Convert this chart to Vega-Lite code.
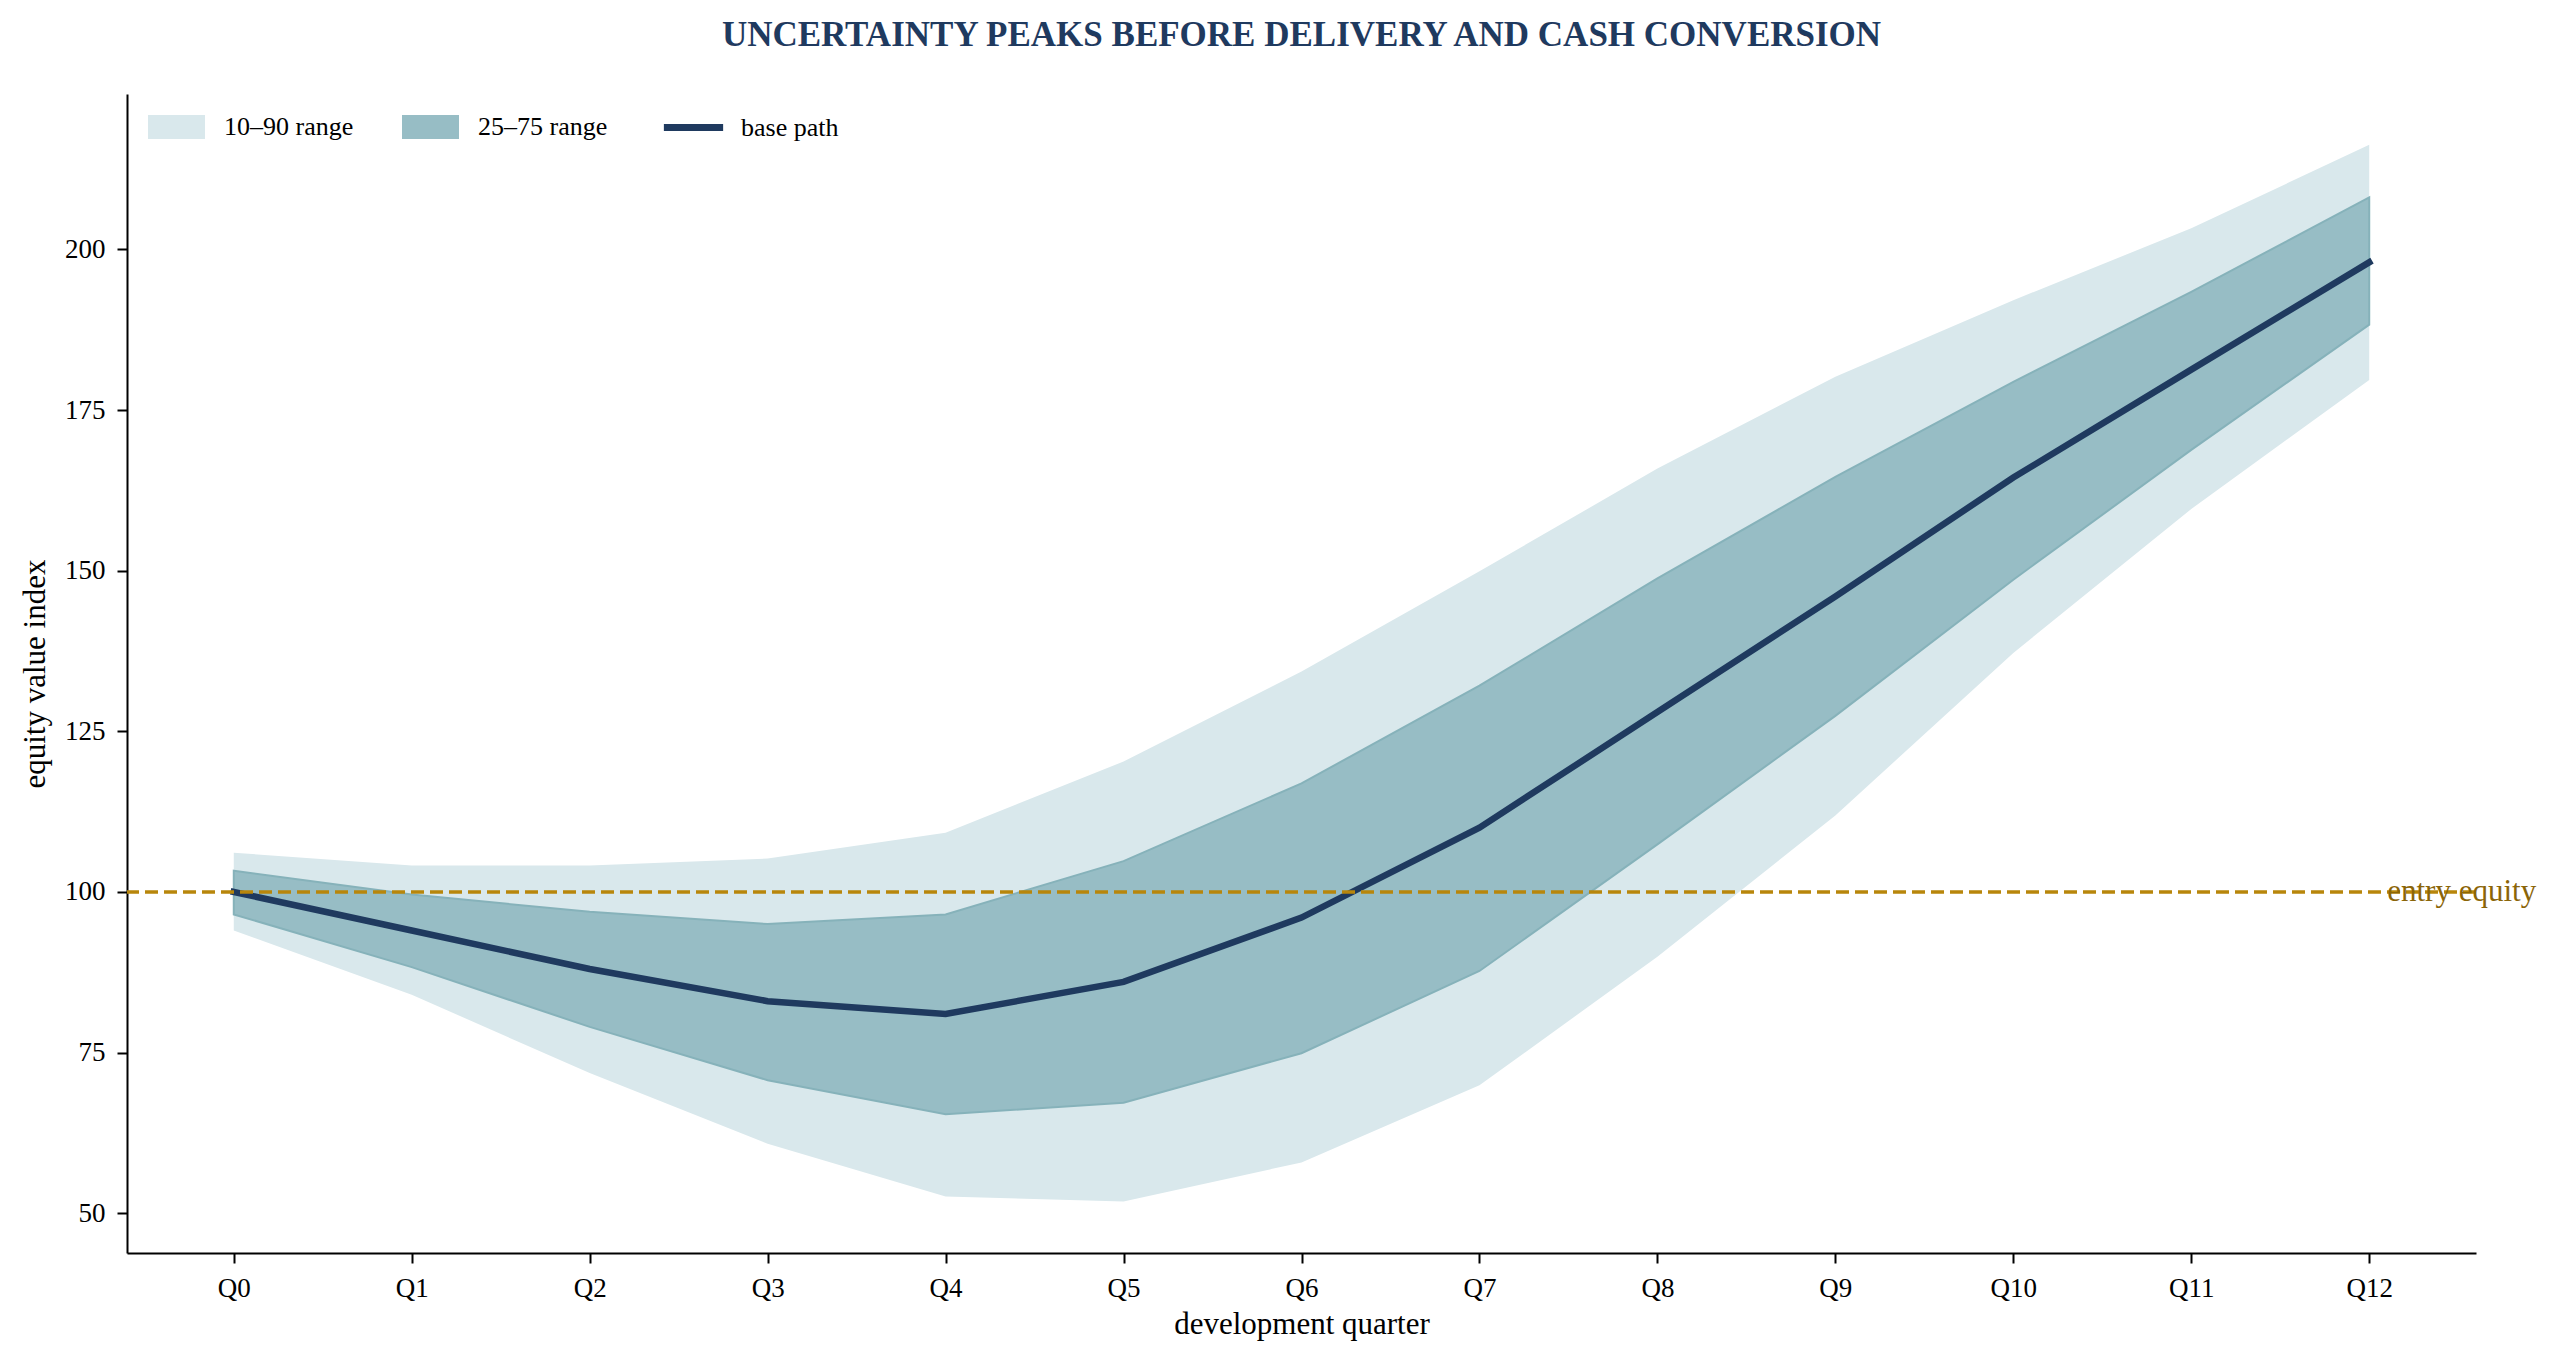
{
  "$schema": "https://vega.github.io/schema/vega-lite/v6.json",
  "width": 2349,
  "height": 1159,
  "autosize": {"type": "none"},
  "padding": {"left": 127, "top": 94, "right": 84, "bottom": 111},
  "background": "white",
  "title": {
    "text": "UNCERTAINTY PEAKS BEFORE DELIVERY AND CASH CONVERSION",
    "font": "Liberation Serif",
    "fontSize": 35,
    "fontWeight": "bold",
    "color": "#1f3a5f",
    "anchor": "middle",
    "frame": "group",
    "offset": 41
  },
  "data": {
    "values": [
      {"quarter": "Q0", "p10": 94.0, "p25": 96.5, "base": 100, "p75": 103.3, "p90": 106.1},
      {"quarter": "Q1", "p10": 84.0, "p25": 88.3, "base": 94, "p75": 99.6, "p90": 104.1},
      {"quarter": "Q2", "p10": 71.8, "p25": 79.0, "base": 88, "p75": 96.9, "p90": 104.1},
      {"quarter": "Q3", "p10": 60.8, "p25": 70.7, "base": 83, "p75": 95.0, "p90": 105.2},
      {"quarter": "Q4", "p10": 52.6, "p25": 65.4, "base": 81, "p75": 96.5, "p90": 109.2},
      {"quarter": "Q5", "p10": 51.8, "p25": 67.2, "base": 86, "p75": 104.8, "p90": 120.3},
      {"quarter": "Q6", "p10": 57.9, "p25": 74.9, "base": 96, "p75": 116.9, "p90": 134.3},
      {"quarter": "Q7", "p10": 69.9, "p25": 87.7, "base": 110, "p75": 132.1, "p90": 149.9},
      {"quarter": "Q8", "p10": 89.9, "p25": 107.4, "base": 128, "p75": 148.8, "p90": 165.9},
      {"quarter": "Q9", "p10": 111.9, "p25": 127.4, "base": 146, "p75": 164.6, "p90": 180.2},
      {"quarter": "Q10", "p10": 137.2, "p25": 148.6, "base": 164.5, "p75": 179.4, "p90": 192.1},
      {"quarter": "Q11", "p10": 159.6, "p25": 168.8, "base": 181.3, "p75": 193.4, "p90": 203.3},
      {"quarter": "Q12", "p10": 179.7, "p25": 188.3, "base": 198, "p75": 208.1, "p90": 216.3}
    ]
  },
  "layer": [
    {
      "mark": {"type": "area", "opacity": 1, "fill": "#d9e8ec"},
      "encoding": {
        "x": {
          "field": "quarter",
          "type": "ordinal",
          "sort": null,
          "scale": {
            "type": "point",
            "padding": 0.6,
            "domain": ["Q0", "Q1", "Q2", "Q3", "Q4", "Q5", "Q6", "Q7", "Q8", "Q9", "Q10", "Q11", "Q12"]
          },
          "axis": {
            "title": "development quarter",
            "labelAngle": 0,
            "labelFontSize": 27,
            "titleFontSize": 31,
            "titleFontWeight": "normal",
            "tickSize": 10,
            "tickWidth": 2,
            "domainWidth": 2,
            "domainColor": "black",
            "tickColor": "black",
            "labelColor": "black",
            "titleColor": "black",
            "labelPadding": 12,
            "titlePadding": 8
          }
        },
        "y": {
          "field": "p90",
          "type": "quantitative",
          "scale": {"domain": [43.8, 224.2], "nice": false, "zero": false},
          "axis": {
            "title": "equity value index",
            "values": [50, 75, 100, 125, 150, 175, 200],
            "labelFontSize": 27,
            "titleFontSize": 31,
            "titleFontWeight": "normal",
            "tickSize": 10,
            "tickWidth": 2,
            "domainWidth": 2,
            "domainColor": "black",
            "tickColor": "black",
            "labelColor": "black",
            "titleColor": "black",
            "labelPadding": 12,
            "titlePadding": 13
          }
        },
        "y2": {"field": "p10"}
      }
    },
    {
      "mark": {"type": "area", "opacity": 1, "fill": "#97bdc5", "stroke": "#86b2ba", "strokeWidth": 2},
      "encoding": {
        "x": {"field": "quarter", "type": "ordinal", "sort": null},
        "y": {"field": "p75", "type": "quantitative"},
        "y2": {"field": "p25"}
      }
    },
    {
      "mark": {"type": "line", "strokeWidth": 6.5, "strokeCap": "square"},
      "encoding": {
        "x": {"field": "quarter", "type": "ordinal", "sort": null},
        "y": {"field": "base", "type": "quantitative"},
        "color": {
          "datum": "base path",
          "type": "nominal",
          "scale": {
            "domain": ["10–90 range", "25–75 range", "base path"],
            "range": ["#d9e8ec", "#97bdc5", "#1f3a5f"]
          },
          "legend": {
            "title": null,
            "orient": "none",
            "legendX": 22,
            "legendY": 20,
            "direction": "horizontal",
            "symbolSize": 3025,
            "labelFont": "Liberation Serif",
            "labelFontSize": 26,
            "labelColor": "black",
            "labelOffset": 20,
            "columnPadding": 45,
            "padding": 0,
            "encode": {
              "symbols": {
                "update": {
                  "x": {"value": 27.5},
                  "shape": {"signal": "datum.value === 'base path' ? 'M-0.95,0H0.95' : 'M-1,-0.4H1V0.4H-1Z'"},
                  "fill": {"signal": "datum.value === 'base path' ? 'transparent' : (datum.value === '25–75 range' ? '#97bdc5' : '#d9e8ec')"},
                  "strokeWidth": {"signal": "datum.value === 'base path' ? 7 : 2"},
                  "strokeCap": {"value": "square"},
                  "opacity": {"value": 1}
                }
              },
              "labels": {
                "update": {
                  "x": {"value": 75}
                }
              }
            }
          }
        }
      }
    },
    {
      "data": {"values": [{"quarter": "Q12", "level": 100, "label": "entry equity"}]},
      "mark": {"type": "rule", "color": "#b8860b", "strokeWidth": 3.5, "strokeDash": [13, 6]},
      "encoding": {
        "y": {"field": "level", "type": "quantitative"}
      }
    },
    {
      "data": {"values": [{"quarter": "Q12", "level": 100, "label": "entry equity"}]},
      "mark": {"type": "text", "align": "left", "baseline": "middle", "dx": 18, "fontSize": 31, "font": "Liberation Serif", "color": "#8b6508"},
      "encoding": {
        "x": {"field": "quarter", "type": "ordinal", "sort": null},
        "y": {"field": "level", "type": "quantitative"},
        "text": {"field": "label"}
      }
    }
  ],
  "config": {
    "font": "Liberation Serif",
    "view": {"stroke": null},
    "axis": {"grid": false}
  }
}
